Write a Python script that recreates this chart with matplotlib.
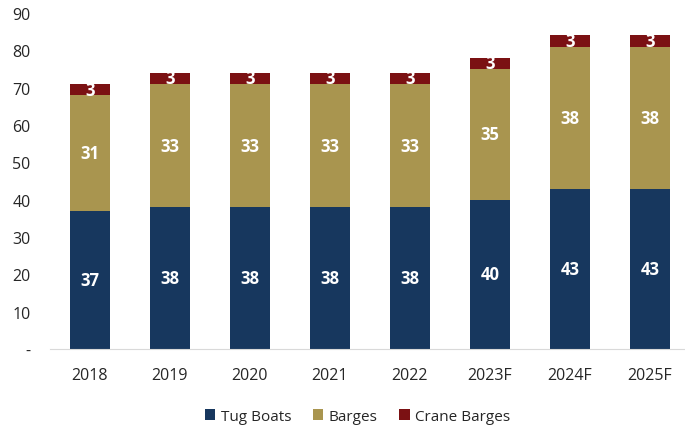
import numpy as np
import matplotlib.pyplot as plt

plt.rcParams['font.family'] = ['Open Sans', 'DejaVu Sans']

years = ['2018', '2019', '2020', '2021', '2022', '2023F', '2024F', '2025F']
tug_boats = [37, 38, 38, 38, 38, 40, 43, 43]
barges = [31, 33, 33, 33, 33, 35, 38, 38]
crane_barges = [3, 3, 3, 3, 3, 3, 3, 3]

series = [('Tug Boats', tug_boats, '#17375E'),
          ('Barges', barges, '#A9954F'),
          ('Crane Barges', crane_barges, '#7B1113')]

fig = plt.figure(figsize=(6.85, 4.27), dpi=100)
ax = fig.add_axes([0.073, 0.180, 0.927, 0.787])

x = np.arange(len(years))
bottom = np.zeros(len(years))
for name, vals, color in series:
    vals = np.array(vals, dtype=float)
    ax.bar(x, vals, 0.5, bottom=bottom, color=color, label=name,
           edgecolor='none')
    for xi, b, v in zip(x, bottom, vals):
        ax.text(xi, b + v / 2, f'{v:g}', ha='center', va='center',
                color='white', fontsize=12, fontweight='bold')
    bottom += vals

ax.set_xlim(-0.5, 7.44)
ax.set_ylim(0, 90)
ax.set_yticks(np.arange(0, 91, 10))
ax.set_yticklabels(['-'] + [str(v) for v in range(10, 91, 10)])
ax.set_xticks(x)
ax.set_xticklabels(years)
ax.tick_params(axis='both', length=0, labelsize=11.5, colors='#262626')
ax.tick_params(axis='y', pad=14)
ax.tick_params(axis='x', pad=13)
for s in ['top', 'right', 'left']:
    ax.spines[s].set_visible(False)
ax.spines['bottom'].set_color('#D9D9D9')

ax.legend(loc='center', bbox_to_anchor=(0.484, -0.20), ncol=3,
          frameon=False, fontsize=11, handlelength=0.7, handleheight=0.7,
          handletextpad=0.35, columnspacing=1.4,
          labelcolor='#262626')

fig.savefig('out.png', dpi=100)
